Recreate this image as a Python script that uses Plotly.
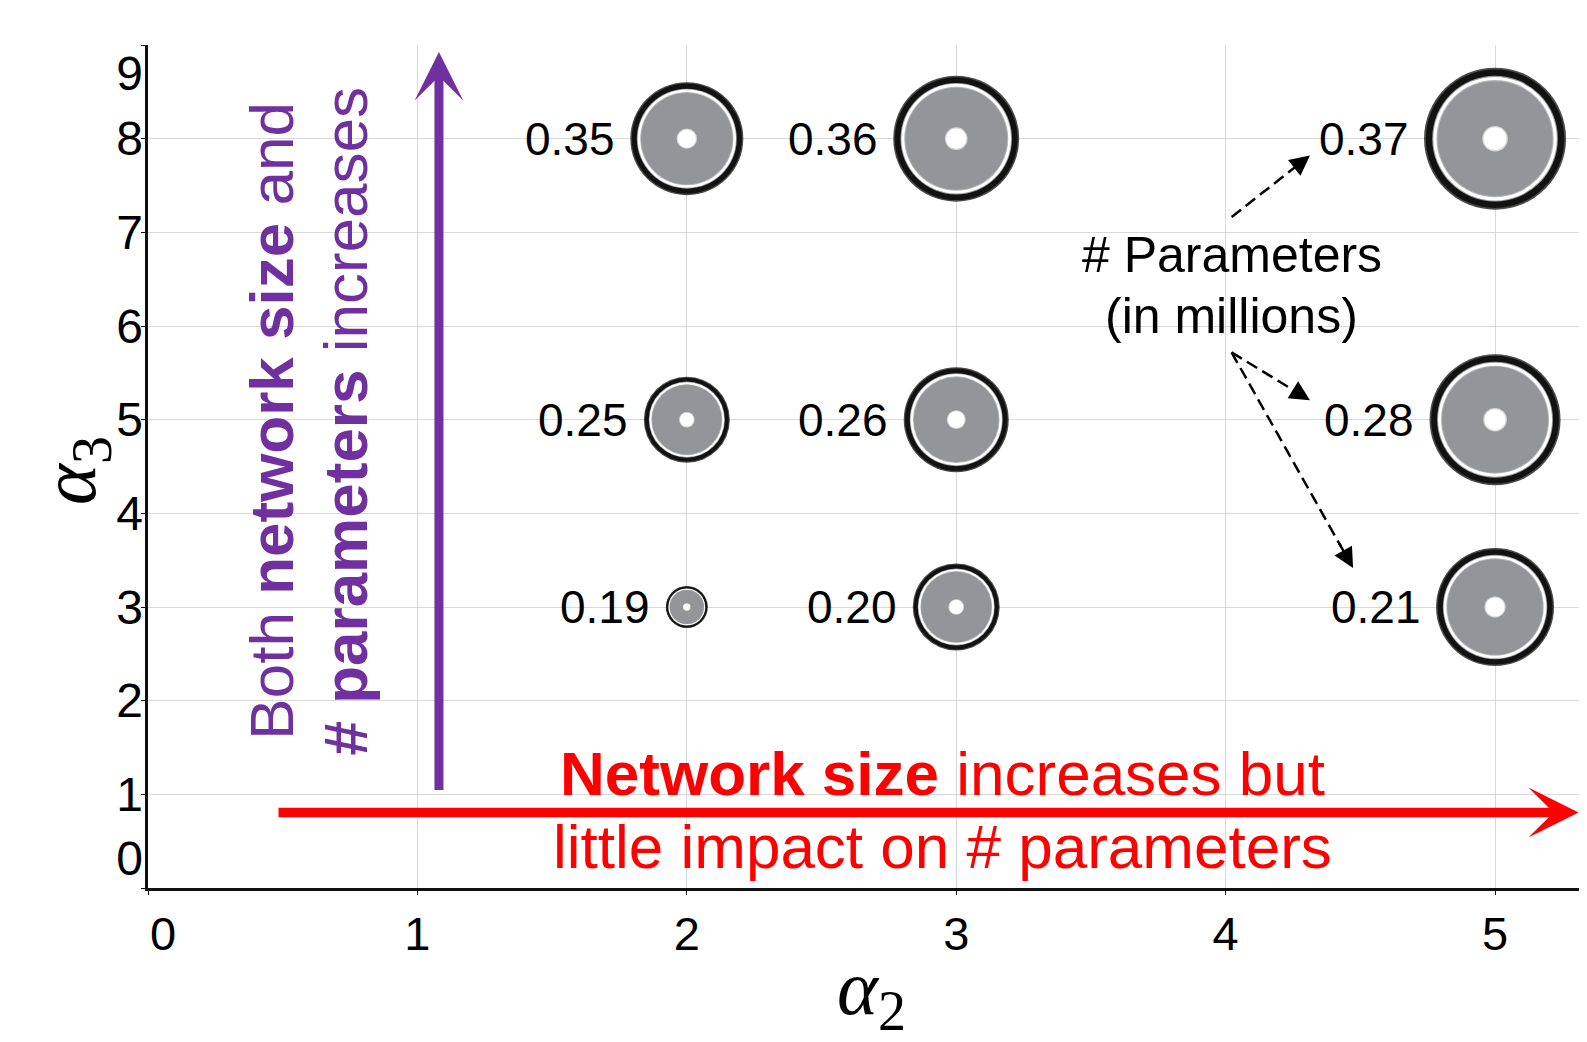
import plotly.graph_objects as go

# ---- data ----
alpha2 = [2, 3, 5, 2, 3, 5, 2, 3, 5]
alpha3 = [8, 8, 8, 5, 5, 5, 3, 3, 3]
params_millions = ["0.35", "0.36", "0.37", "0.25", "0.26", "0.28", "0.19", "0.20", "0.21"]
network_size = [113, 126, 142, 86, 105, 131, 42, 87, 118]  # bubble diameter (px)

x_ticks = [0, 1, 2, 3, 4, 5]
y_ticks = [0, 1, 2, 3, 4, 5, 6, 7, 8, 9]
x_label_pos = [0.056, 1, 2, 3, 4, 5]
x_label_text = ["0", "1", "2", "3", "4", "5"]
y_label_pos = [0.32, 1, 2, 3, 4, 5, 6, 7, 8, 8.70]
y_label_text = ["0", "1", "2", "3", "4", "5", "6", "7", "8", "9"]

FONT = "Arial, Liberation Sans, sans-serif"
MATH = "Liberation Serif, DejaVu Serif, serif"
PURPLE = "#7030A0"
RED = "#FF0000"
GREY = "#939598"

fig = go.Figure()

# layered bubbles: soft black ring, white gap, grey body, white centre
layers = [(1.0, "#4a4a4a"), (0.975, "#121212"), (0.885, "#9a9a9a"), (0.87, "white"),
          (0.825, "#b8b9bb"), (0.81, GREY), (0.18, "#d8d8d8"), (0.16, "white")]
for frac, col in layers:
    fig.add_trace(go.Scatter(
        x=alpha2, y=alpha3, mode="markers",
        marker=dict(size=[d * frac for d in network_size], color=col, opacity=1,
                    line=dict(width=0)),
        hoverinfo="skip", showlegend=False))

# invisible trace for overlay label axes
fig.add_trace(go.Scatter(x=[None], y=[None], xaxis="x2", yaxis="y2", showlegend=False))

# bubble value labels
for xv, yv, t, d in zip(alpha2, alpha3, params_millions, network_size):
    fig.add_annotation(x=xv, y=yv, text=t, showarrow=False, xanchor="right", yanchor="middle",
                       xshift=-(d / 2 + 13.5), font=dict(family=FONT, size=46, color="black"))

# "# Parameters (in millions)"
fig.add_annotation(x=4.022, y=6.753, text="# Parameters", showarrow=False,
                   font=dict(family=FONT, size=50, color="black"))
fig.add_annotation(x=4.022, y=6.104, text="(in millions)", showarrow=False,
                   font=dict(family=FONT, size=50, color="black"))

# dashed pointer arrows
pointer = [((4.022, 7.163), (4.313, 7.821)),
           ((4.022, 5.719), (4.313, 5.207)),
           ((4.022, 5.719), (4.473, 3.416))]
for (x0, y0), (x1, y1) in pointer:
    fig.add_shape(type="line", x0=x0, y0=y0, x1=x1 - 0.1 * (x1 - x0), y1=y1 - 0.1 * (y1 - y0),
                  line=dict(color="black", width=2.5, dash="12px,6px"))
    fig.add_annotation(x=x1, y=y1, ax=x1 - 0.12 * (x1 - x0), ay=y1 - 0.12 * (y1 - y0),
                       axref="x", ayref="y", text="", showarrow=True,
                       arrowhead=2, arrowwidth=2.5, arrowsize=1.6, arrowcolor="black", standoff=0)

# purple vertical arrow
fig.add_annotation(x=1.08, y=8.925, ax=1.08, ay=1.03, axref="x", ayref="y", text="",
                   showarrow=True, arrowhead=3, arrowwidth=9, arrowsize=0.9,
                   arrowcolor=PURPLE, standoff=0)
# red horizontal arrow
fig.add_annotation(x=5.31, y=0.806, ax=0.479, ay=0.806, axref="x", ayref="y", text="",
                   showarrow=True, arrowhead=3, arrowwidth=9.5, arrowsize=0.88,
                   arrowcolor=RED, standoff=0)

# purple rotated text
fig.add_annotation(x=0.455, y=4.985, text="Both <b>network size</b> and", showarrow=False,
                   textangle=-90, font=dict(family=FONT, size=62, color=PURPLE))
fig.add_annotation(x=0.733, y=4.985, text="<b># parameters</b> increases", showarrow=False,
                   textangle=-90, font=dict(family=FONT, size=62, color=PURPLE))

# red text
fig.add_annotation(x=2.948, y=1.222, text="<b>Network size</b> increases but", showarrow=False,
                   font=dict(family=FONT, size=62, color=RED))
fig.add_annotation(x=2.948, y=0.44, text="little impact on # parameters", showarrow=False,
                   font=dict(family=FONT, size=62, color=RED))

# y-axis title (alpha_3), placed left of the tick labels
fig.add_annotation(xref="paper", yref="y", x=-0.0511, y=4.452, xanchor="center", yanchor="middle",
                   text="<i>α</i><sub><span style='font-size:56px'>3</span></sub>",
                   showarrow=False, textangle=-90, font=dict(family=MATH, size=78, color="black"))

XR = [0, 5.371]
YR = [0, 9]

fig.update_layout(
    width=1587, height=1042,
    margin=dict(l=140, r=0, t=37, b=162, pad=0),
    plot_bgcolor="white", paper_bgcolor="white",
    showlegend=False,
    xaxis=dict(range=XR, tickvals=x_ticks, showticklabels=False, showgrid=True,
               gridcolor="#d9d9d9", gridwidth=1, zeroline=False, showline=True,
               linecolor="#111111", linewidth=2.5, ticks="outside", ticklen=4,
               tickcolor="#111111", tickwidth=1),
    yaxis=dict(range=YR, tickvals=y_ticks, showticklabels=False, showgrid=True,
               gridcolor="#d9d9d9", gridwidth=1, zeroline=False, showline=True,
               linecolor="#111111", linewidth=2.5, ticks="outside", ticklen=4,
               tickcolor="#111111", tickwidth=1),
    xaxis2=dict(range=XR, overlaying="x", anchor="y2", side="bottom", tickvals=x_label_pos,
                ticktext=x_label_text, showgrid=False, zeroline=False, showline=False, ticks="",
                ticklabelstandoff=14,
                tickfont=dict(family=FONT, size=47, color="black"),
                title=dict(text="<i>α</i><sub><span style='font-size:56px'>2</span></sub>", standoff=0,
                           font=dict(family=MATH, size=78, color="black"))),
    yaxis2=dict(range=YR, overlaying="y", anchor="x2", side="left", tickvals=y_label_pos,
                ticktext=y_label_text, showgrid=False, zeroline=False, showline=False, ticks="",
                ticklabelstandoff=4,
                tickfont=dict(family=FONT, size=48, color="black")),
)

fig.write_html("out.html")
